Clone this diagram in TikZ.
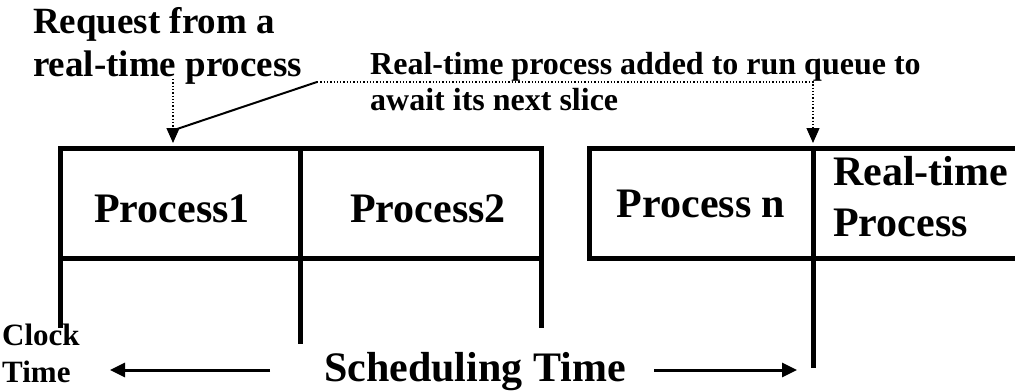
\documentclass[tikz,border=0pt]{standalone}
\usepackage{fontspec}
\setmainfont{Liberation Serif}
\usetikzlibrary{arrows.meta}

\begin{document}
\begin{tikzpicture}[x=1pt,y=-1pt,
  lbl/.style={inner sep=0pt, font=\bfseries, align=left},
  frame/.style={line width=5pt, line cap=butt, line join=miter},
  timeline/.style={line width=3pt, -{Triangle[length=15pt,width=14pt]}},
  callout/.style={line width=1.3pt, dotted, -{Triangle[length=15pt,width=13pt]}},
  leader/.style={line width=2pt},
 ]
\useasboundingbox (0,0) rectangle (1015,391);

% time slices (first group)
\draw[frame] (60,328) -- (60,148) -- (541,148) -- (541,328);
\draw[frame] (60,258) -- (541,258);
\draw[frame] (300,148) -- (300,344);

% time slices (last group, open to the right)
\draw[frame] (1020,148) -- (589,148) -- (589,258) -- (1020,258);
\draw[frame] (813,148) -- (813,368);

% slice labels
\node[lbl, font=\bfseries\fontsize{42}{48}\selectfont, anchor=base] (p1) at (172,222) {Process1};
\node[lbl, font=\bfseries\fontsize{42}{48}\selectfont, anchor=base] (p2) at (428,222) {Process2};
\node[lbl, font=\bfseries\fontsize{42}{48}\selectfont, anchor=base] (pn) at (701,217) {Process n};
\node[lbl, font=\bfseries\fontsize{42}{51}\selectfont, anchor=base west] (rt) at (833,236) {Real-time\\Process};

% annotations (anchored at the baseline of their last line)
\node[lbl, font=\bfseries\fontsize{37}{43}\selectfont, anchor=base west] (req) at (33,76) {Request from a\\real-time process};
\node[lbl, font=\bfseries\fontsize{32}{36}\selectfont, anchor=base west] (added) at (370,110) {Real-time process added to run queue to\\await its next slice};

% callout connectors
\coordinate (split) at (317,82);
\coordinate (reqtop) at (173,79);
\coordinate (reqtip) at (173,143);
\coordinate (reqjoin) at (177,129);
\coordinate (corner) at (813,82);
\coordinate (rttip) at (813,143);
\draw[callout] (reqtop) -- (reqtip);
\draw[leader] (split) -- (reqjoin);
\draw[callout] (split) -- (corner) -- (rttip);

% time axis
\node[lbl, font=\bfseries\fontsize{31}{37}\selectfont, anchor=base west] (clock) at (2,382) {Clock\\Time};
\node[lbl, font=\bfseries\fontsize{42}{48}\selectfont, anchor=base] (sched) at (475,381) {Scheduling Time};
\coordinate (lstart) at (270,370);
\coordinate (lend) at (110,370);
\coordinate (rstart) at (654,370);
\coordinate (rend) at (797,370);
\draw[timeline] (lstart) -- (lend);
\draw[timeline] (rstart) -- (rend);
\end{tikzpicture}
\end{document}
